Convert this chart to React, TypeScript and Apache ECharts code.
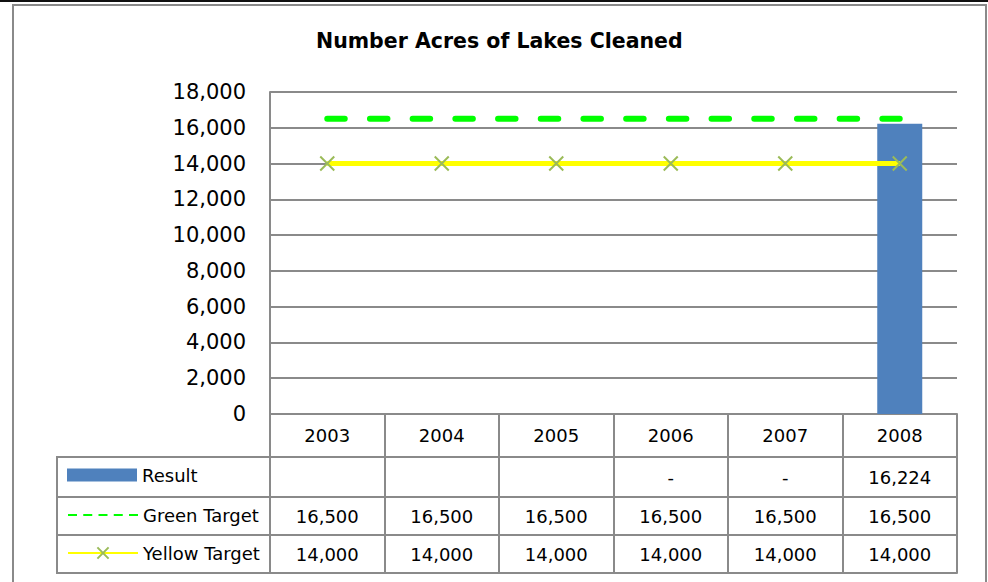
import React, { useEffect, useRef } from "react";
import * as echarts from "echarts";

const years = ["2003", "2004", "2005", "2006", "2007", "2008"];
const resultValues: (number | null)[] = [null, null, null, 0, 0, 16224];
const greenTarget = [16500, 16500, 16500, 16500, 16500, 16500];
const yellowTarget = [14000, 14000, 14000, 14000, 14000, 14000];
const yMin = 0;
const yMax = 18000;
const yStep = 2000;
const titleText = "Number Acres of Lakes Cleaned";
const seriesNames = ["Result", "Green Target", "Yellow Target"];

const FONT = "'DejaVu Sans', sans-serif";
const GRAY = "#8a8a8a";

const fmt = (v: number | null) =>
  v == null ? "" : v === 0 ? "-" : v.toLocaleString("en-US");

export default function App() {
  const ref = useRef<HTMLDivElement>(null);
  useEffect(() => {
    if (!ref.current) return;
    const chart = echarts.init(ref.current, undefined, { renderer: "svg" });

    const rowAxis = (offset: number, len: number, labels: string[] | null) => ({
      type: "category",
      data: years,
      position: "bottom",
      offset,
      boundaryGap: true,
      axisLine: { show: true, lineStyle: { color: GRAY, width: 2 } },
      axisTick: {
        show: len > 0,
        length: len,
        alignWithLabel: false,
        interval: 0,
        lineStyle: { color: GRAY, width: 2 },
      },
      axisLabel: {
        show: !!labels,
        interval: 0,
        margin: len / 2,
        verticalAlign: "middle",
        fontFamily: FONT,
        fontSize: 18,
        color: "#000",
        formatter: (_v: string, i: number) => (labels ? labels[i] : ""),
      },
      splitLine: { show: false },
    });

    const legendText = { fontFamily: FONT, fontSize: 18, color: "#000" };

    chart.setOption({
      animation: false,
      backgroundColor: "#fff",
      title: {
        text: titleText,
        left: 316,
        top: 30,
        padding: 0,
        textStyle: { fontFamily: FONT, fontWeight: "bold", fontSize: 20.5, color: "#000" },
      },
      grid: { left: 270, right: 31, top: 92, bottom: 168, containLabel: false },
      legend: [
        {
          data: [seriesNames[0]],
          left: 67,
          top: 466,
          padding: 0,
          icon: "rect",
          itemWidth: 70,
          itemHeight: 13,
          textStyle: legendText,
        },
        {
          data: [seriesNames[1]],
          left: 67,
          top: 506,
          padding: 0,
          itemWidth: 70,
          itemHeight: 14,
          lineStyle: { width: 2, type: [9, 6.25], cap: "butt", color: "#00FF00" },
          itemStyle: { opacity: 0 },
          textStyle: legendText,
        },
        {
          data: [seriesNames[2]],
          left: 67,
          top: 544,
          padding: 0,
          itemWidth: 70,
          itemHeight: 14,
          lineStyle: { width: 2 },
          textStyle: legendText,
        },
      ],
      xAxis: [
        rowAxis(0, 43, years),
        rowAxis(43, 40, resultValues.map(fmt)),
        rowAxis(83, 38, greenTarget.map(fmt)),
        rowAxis(121, 38, yellowTarget.map(fmt)),
        rowAxis(159, 0, null),
      ],
      yAxis: {
        type: "value",
        min: yMin,
        max: yMax,
        interval: yStep,
        axisLine: { show: true, lineStyle: { color: GRAY, width: 2 } },
        axisTick: { show: false },
        axisLabel: {
          margin: 24,
          fontFamily: FONT,
          fontSize: 21,
          color: "#000",
          formatter: (v: number) => v.toLocaleString("en-US"),
        },
        splitLine: { show: true, lineStyle: { color: GRAY, width: 2 } },
      },
      series: [
        {
          name: seriesNames[0],
          type: "bar",
          data: resultValues,
          barWidth: 45,
          itemStyle: { color: "#4F81BD" },
        },
        {
          name: seriesNames[1],
          type: "line",
          data: greenTarget,
          symbol: "circle",
          showSymbol: false,
          lineStyle: { color: "#00FF00", width: 6, type: [17.5, 25.2], cap: "round" },
          itemStyle: { color: "rgba(0,0,0,0)", borderWidth: 0 },
        },
        {
          name: seriesNames[2],
          type: "line",
          data: yellowTarget,
          symbol: "path://M0,0L10,10M0,10L10,0",
          symbolSize: 14,
          lineStyle: { color: "#FFFF00", width: 5 },
          itemStyle: { color: "#9BBB59", borderColor: "#9BBB59", borderWidth: 2 },
        },
      ],
      graphic: [
        { type: "rect", shape: { x: 0, y: 0, width: 988, height: 2 }, style: { fill: "#111" } },
        {
          type: "polyline",
          shape: { points: [[13, 582], [13, 5], [986, 5], [986, 582]] },
          style: { stroke: GRAY, lineWidth: 2, fill: null },
        },
        { type: "line", shape: { x1: 57, y1: 457, x2: 270, y2: 457 }, style: { stroke: GRAY, lineWidth: 2 } },
        { type: "line", shape: { x1: 57, y1: 497, x2: 270, y2: 497 }, style: { stroke: GRAY, lineWidth: 2 } },
        { type: "line", shape: { x1: 57, y1: 535, x2: 270, y2: 535 }, style: { stroke: GRAY, lineWidth: 2 } },
        { type: "line", shape: { x1: 57, y1: 573, x2: 270, y2: 573 }, style: { stroke: GRAY, lineWidth: 2 } },
        { type: "line", shape: { x1: 57, y1: 456, x2: 57, y2: 574 }, style: { stroke: GRAY, lineWidth: 2 } },
      ],
    });
    return () => chart.dispose();
  }, []);
  return (
    <div
      ref={ref}
      style={{ position: "fixed", left: 0, top: 0, width: 988, height: 582, background: "#fff" }}
    />
  );
}
